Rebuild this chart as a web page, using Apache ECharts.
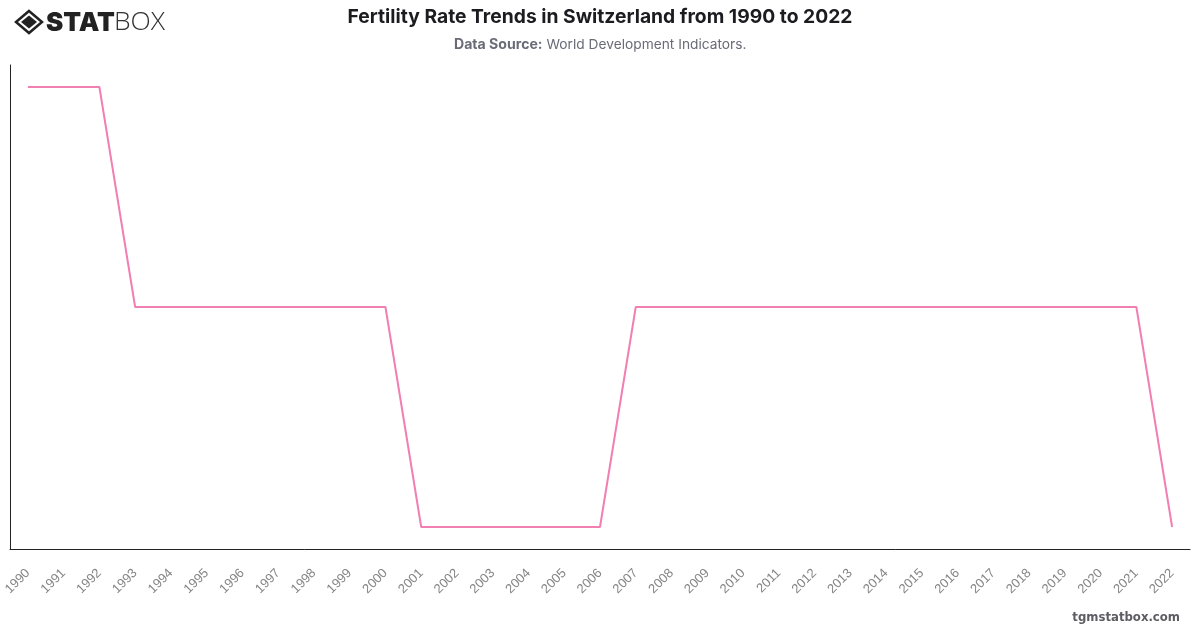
<!DOCTYPE html>
<html>
<head>
<meta charset="utf-8">
<title>Fertility Rate Trends in Switzerland from 1990 to 2022</title>
<script src="https://cdn.jsdelivr.net/npm/echarts@6/dist/echarts.min.js"></script>
<style>
html,body{margin:0;padding:0;background:#fff}
#chart{width:1200px;height:628px}
</style>
</head>
<body>
<div id="chart"></div>
<script>
const years = ['1990','1991','1992','1993','1994','1995','1996','1997','1998','1999','2000','2001','2002','2003','2004','2005','2006','2007','2008','2009','2010','2011','2012','2013','2014','2015','2016','2017','2018','2019','2020','2021','2022'];
const fertilityRate = [1.6,1.6,1.6,1.5,1.5,1.5,1.5,1.5,1.5,1.5,1.5,1.4,1.4,1.4,1.4,1.4,1.4,1.5,1.5,1.5,1.5,1.5,1.5,1.5,1.5,1.5,1.5,1.5,1.5,1.5,1.5,1.5,1.4];
const chartTitle = 'Fertility Rate Trends in Switzerland from 1990 to 2022';
const sourceLabel = 'Data Source:';
const sourceText = ' World Development Indicators.';
const siteLabel = 'tgmstatbox.com';

const chart = echarts.init(document.getElementById('chart'), null, {renderer:'canvas'});
chart.setOption({
  animation:false,
  backgroundColor:'#ffffff',
  grid:{left:10,right:10,top:65,bottom:79,containLabel:false},
  xAxis:{
    type:'category',
    data:years,
    boundaryGap:true,
    axisTick:{show:false},
    axisLine:{lineStyle:{color:'#222222',width:1}},
    axisLabel:{rotate:45,interval:0,color:'#858585',fontFamily:'Liberation Sans',fontSize:13,margin:22}
  },
  yAxis:{
    type:'value',
    min:1.39,
    max:1.61,
    splitLine:{show:false},
    axisTick:{show:false},
    axisLabel:{show:false},
    axisLine:{show:true,lineStyle:{color:'#222222',width:1}}
  },
  series:[{
    type:'line',
    data:fertilityRate,
    showSymbol:false,
    smooth:false,
    lineStyle:{color:'#f17fb2',width:2},
    itemStyle:{color:'#f17fb2'}
  }],
  graphic:[
    {type:'text',left:'center',top:8,style:{text:chartTitle,font:'700 19.3px Inter',fill:'#1c1c20'}},
    {type:'text',left:454,top:38,style:{
      text:'{b|'+sourceLabel+'}{r|'+sourceText+'}',
      rich:{
        b:{font:'700 14.1px Inter',fill:'#6b6b78'},
        r:{font:'400 13.75px Inter',fill:'#6b6b78'}
      }
    }},
    {type:'text',right:20,top:612,style:{text:siteLabel,font:'700 11.7px "DejaVu Sans"',fill:'#5c5c62'}},
    // brand mark: outlined diamond with a solid diamond inside
    {type:'polygon',shape:{points:[[29,11],[42,22],[29,33],[16,22]]},style:{fill:'none',stroke:'#222222',lineWidth:2.5}},
    {type:'polygon',shape:{points:[[29,15.5],[37,22],[29,28.5],[21,22]]},style:{fill:'#222222'}},
    {type:'text',left:46,top:10,style:{text:'STAT',font:'900 26px Inter',fill:'#222222'}},
    {type:'text',left:114,top:9,style:{text:'BOX',font:'300 26.5px "Open Sans"',fill:'#333333'}}
  ]
});
</script>
</body>
</html>
